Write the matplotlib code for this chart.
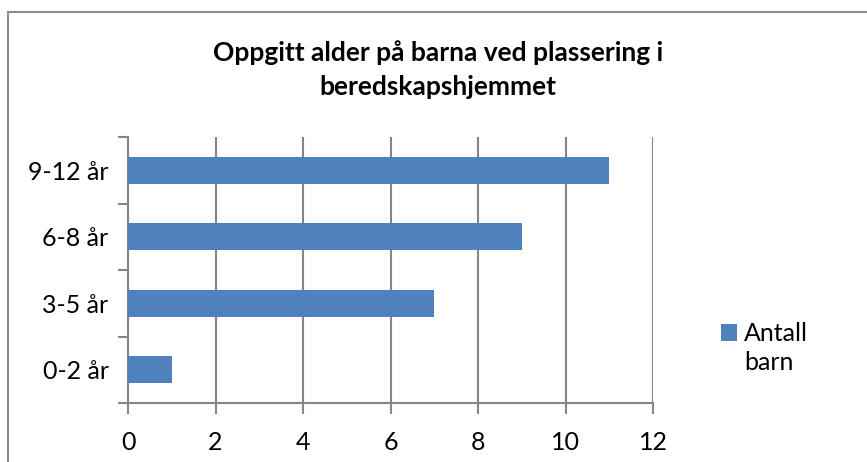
import matplotlib
matplotlib.use("Agg")
import matplotlib.pyplot as plt
from matplotlib.patches import Rectangle, Patch

categories = ["0-2 år", "3-5 år", "6-8 år", "9-12 år"]
values = [1, 7, 9, 11]
xticks = [0, 2, 4, 6, 8, 10, 12]
series_name = "Antall\nbarn"
title = "Oppgitt alder på barna ved plassering i\nberedskapshjemmet"

plt.rcParams['font.family'] = ['Lato', 'DejaVu Sans']
W, H = 867, 462
fig = plt.figure(figsize=(W/100, H/100), dpi=100)
fig.patch.set_facecolor("white")

# outer chart border (extends beyond right/bottom)
fig.add_artist(Rectangle((8/W, -0.1), 1.2, 1 - 12/H + 0.1, transform=fig.transFigure,
                         fill=False, edgecolor="#8c8c8c", linewidth=1.5))

ax = fig.add_axes([128/W, 1 - 403/H, (653-128)/W, (403-137)/H])
color = "#4f81bd"
ypos = list(range(len(categories)))
ax.barh(ypos, values, height=0.4, color=color, zorder=3)
ax.set_xlim(0, 12)
ax.set_ylim(-0.5, len(categories) - 0.5)
ax.set_xticks(xticks)
ax.set_xticklabels([str(v) for v in xticks], fontsize=18)
ax.set_yticks(ypos)
ax.set_yticklabels(categories, fontsize=18)
ax.set_yticks([i - 0.5 for i in range(len(categories) + 1)], minor=True)
ax.tick_params(axis='y', which='major', length=0, pad=14)
ax.tick_params(axis='y', which='minor', length=7, width=1.5, color="#868686", direction='out')
ax.tick_params(axis='x', length=8, width=1.5, color="#868686", direction='out', pad=12)
ax.grid(axis='x', color="#868686", linewidth=1.5, zorder=0)
for s in ['top', 'right']:
    ax.spines[s].set_visible(False)
for s in ['left', 'bottom']:
    ax.spines[s].set_color("#868686")
    ax.spines[s].set_linewidth(1.5)

fig.text(438/W, 1 - 70/H, title, ha='center', va='center', fontsize=19,
         fontweight='bold', linespacing=1.5)

leg = fig.legend(handles=[Patch(facecolor=color, label=series_name)], loc='upper left',
                 bbox_to_anchor=(711/W, 1 - 312/H), frameon=False, fontsize=18,
                 handlelength=0.62, handleheight=0.62, handletextpad=0.3, borderaxespad=0,
                 labelspacing=0)
for t in leg.get_texts():
    t.set_linespacing(1.3)
# align the legend swatch with the first text line
h = leg.legend_handles[0]
h.set_y(h.get_y() + 11.5)

fig.savefig("out.png", dpi=100)
